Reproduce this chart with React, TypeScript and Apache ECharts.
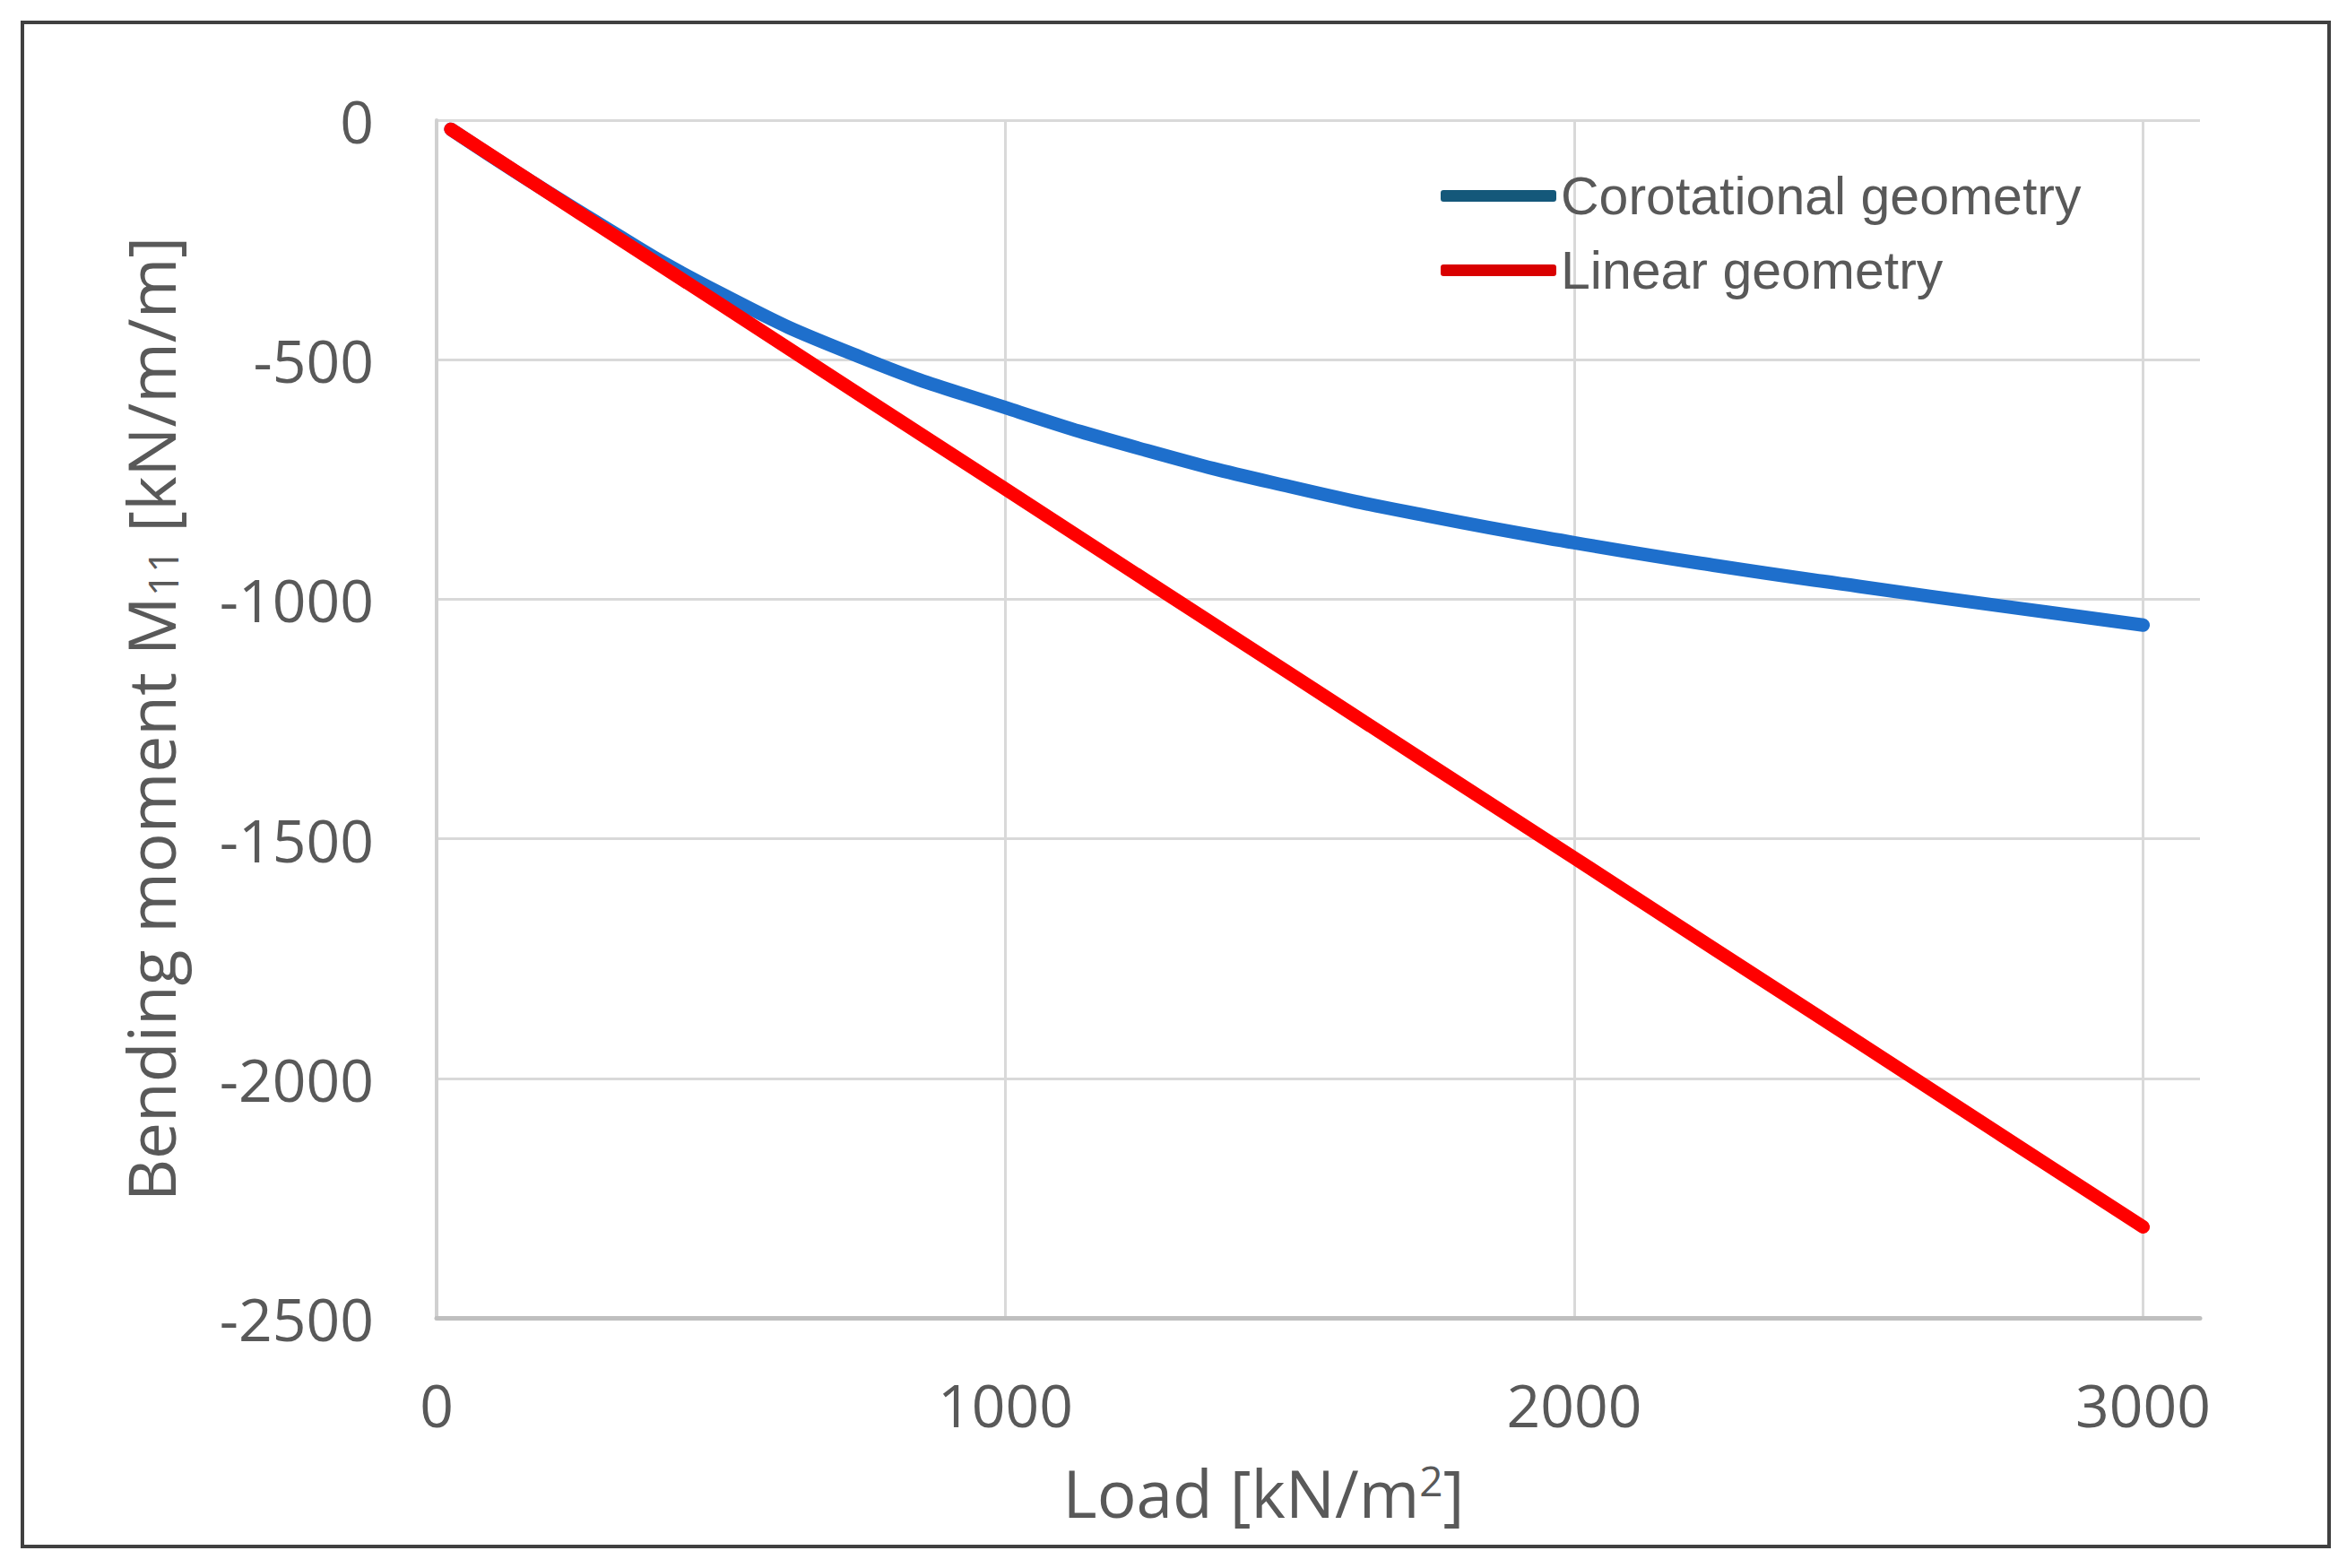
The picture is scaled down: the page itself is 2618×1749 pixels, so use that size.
import * as echarts from 'echarts';
import { useEffect, useRef } from 'react';

// load steps [kN/m2]
const loads = [25, 250, 500, 750, 1000, 1250, 1500, 1750, 2000, 2250, 2500, 2750, 3000];
// bending moment M11 [kN/m/m]
const corotational = [-19, -190, -362, -497, -600, -690, -765, -828, -882, -930, -973, -1014, -1054];
const linear = [-19, -193, -385, -578, -770, -963, -1155, -1348, -1540, -1733, -1925, -2118, -2310];

const xTicks = [0, 1000, 2000, 3000];
const seriesNames = ['Corotational geometry', 'Linear geometry'];

const FONT = '"Open Sans", "Noto Sans", sans-serif';
const GREY = '#595959';

const App = () => {
    const chartRef = useRef<HTMLDivElement>(null);

    useEffect(() => {
        if (!chartRef.current) return;
        const chart = echarts.init(chartRef.current, undefined, { renderer: 'svg' });

        chart.setOption({
            animation: false,
            backgroundColor: '#ffffff',
            grid: { left: 487, right: 164, top: 134, bottom: 279 },
            graphic: [
                {
                    type: 'rect',
                    shape: { x: 25, y: 25, width: 2573, height: 1700 },
                    style: { fill: 'none', stroke: '#404040', lineWidth: 4 },
                },
            ],
            legend: {
                orient: 'vertical',
                left: 1602,
                top: 184,
                itemWidth: 129,
                itemHeight: 13,
                itemGap: 24,
                icon: 'roundRect',
                textStyle: {
                    fontFamily: '"Liberation Sans Narrow", "Arial Narrow", "Liberation Sans", sans-serif',
                    fontSize: 59,
                    color: GREY,
                },
                data: [
                    { name: seriesNames[0], itemStyle: { color: '#14587a', borderWidth: 0 } },
                    { name: seriesNames[1], itemStyle: { color: '#d90000', borderWidth: 0 } },
                ],
            },
            xAxis: {
                type: 'value',
                min: 0,
                max: 3100,
                interval: 1000,
                name: 'Load [kN/m{sup|2}]',
                nameLocation: 'middle',
                nameGap: 158,
                nameTextStyle: {
                    fontFamily: FONT,
                    fontSize: 73,
                    color: GREY,
                    padding: [0, 122, 0, 0],
                    rich: {
                        sup: { fontFamily: FONT, fontSize: 46, color: GREY, verticalAlign: 'top', lineHeight: 46 },
                    },
                },
                axisLine: { show: true, onZero: false, lineStyle: { color: '#bfbfbf', width: 5 } },
                axisTick: { show: false, customValues: xTicks },
                axisLabel: {
                    customValues: xTicks,
                    margin: 63,
                    fontFamily: FONT,
                    fontSize: 66,
                    color: GREY,
                    formatter: (v: number) => String(v),
                },
                splitLine: { show: true, lineStyle: { color: '#d9d9d9', width: 3 } },
            },
            yAxis: {
                type: 'value',
                min: -2500,
                max: 0,
                interval: 500,
                name: 'Bending moment M{sub|11} [kN/m/m]',
                nameLocation: 'middle',
                nameGap: 283,
                nameTextStyle: {
                    fontFamily: FONT,
                    fontSize: 73,
                    color: GREY,
                    rich: {
                        sub: { fontFamily: FONT, fontSize: 46, color: GREY, verticalAlign: 'bottom', lineHeight: 46 },
                    },
                },
                axisLine: { show: true, onZero: false, lineStyle: { color: '#d0d0d0', width: 4 } },
                axisTick: { show: false },
                axisLabel: {
                    margin: 70,
                    fontFamily: FONT,
                    fontSize: 66,
                    color: GREY,
                    formatter: (v: number) => String(v),
                },
                splitLine: { show: true, lineStyle: { color: '#d9d9d9', width: 3 } },
            },
            series: [
                {
                    name: seriesNames[0],
                    type: 'line',
                    data: loads.map((x, i) => [x, corotational[i]]),
                    showSymbol: false,
                    smooth: 0.5,
                    itemStyle: { color: '#14587a' },
                    lineStyle: { color: '#1e6fcc', width: 15, cap: 'round', join: 'round' },
                    z: 2,
                },
                {
                    name: seriesNames[1],
                    type: 'line',
                    data: loads.map((x, i) => [x, linear[i]]),
                    showSymbol: false,
                    itemStyle: { color: '#d90000' },
                    lineStyle: { color: '#ff0000', width: 15, cap: 'round', join: 'round' },
                    z: 3,
                },
            ],
        });

        const onResize = () => chart.resize();
        window.addEventListener('resize', onResize);
        return () => {
            window.removeEventListener('resize', onResize);
            chart.dispose();
        };
    }, []);

    return (
        <div
            ref={chartRef}
            style={{ position: 'fixed', left: 0, top: 0, width: 2618, height: 1749, background: '#fff' }}
        />
    );
};

export default App;
